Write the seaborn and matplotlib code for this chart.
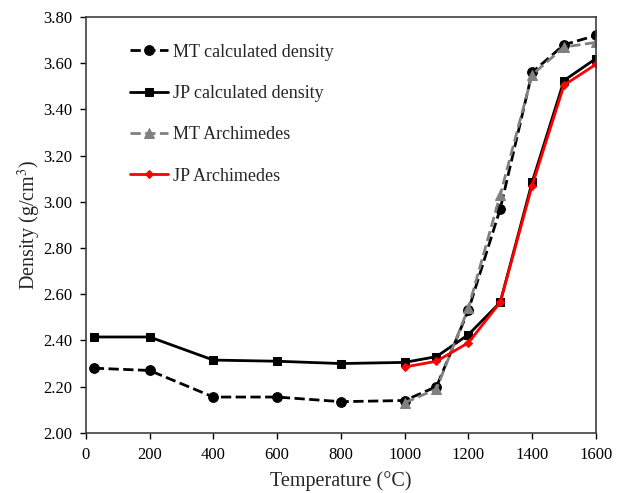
import matplotlib
matplotlib.use("Agg")
import matplotlib.pyplot as plt
import seaborn as sns

temps_mt_calc = [25, 200, 400, 600, 800, 1000, 1100, 1200, 1300, 1400, 1500, 1600]
mt_calc = [2.28, 2.27, 2.155, 2.155, 2.135, 2.14, 2.20, 2.53, 2.97, 3.56, 3.68, 3.72]
temps_jp_calc = [25, 200, 400, 600, 800, 1000, 1100, 1200, 1300, 1400, 1500, 1600]
jp_calc = [2.415, 2.415, 2.315, 2.31, 2.30, 2.305, 2.33, 2.425, 2.565, 3.085, 3.525, 3.62]
temps_arch = [1000, 1100, 1200, 1300, 1400, 1500, 1600]
mt_arch = [2.13, 2.19, 2.54, 3.03, 3.55, 3.67, 3.69]
jp_arch = [2.285, 2.31, 2.39, 2.565, 3.07, 3.505, 3.595]

sns.set_style("ticks")
plt.rcParams['font.family'] = ['Liberation Serif', 'DejaVu Serif']
plt.rcParams['mathtext.fontset'] = 'stix'

fig = plt.figure(figsize=(6.22, 4.93), dpi=100)
ax = fig.add_axes([0.138, 0.122, 0.82, 0.8435])

sns.lineplot(x=temps_mt_calc, y=mt_calc, ax=ax, color='black', linestyle='--', marker='o',
             markersize=7, linewidth=2, label='MT calculated density', markeredgecolor='black')
sns.lineplot(x=temps_jp_calc, y=jp_calc, ax=ax, color='black', linestyle='-', marker='s',
             markersize=6, linewidth=2, label='JP calculated density', markeredgecolor='black')
sns.lineplot(x=temps_arch, y=mt_arch, ax=ax, color='#808080', linestyle='--', marker='^',
             markersize=7, linewidth=2, label='MT Archimedes', markeredgecolor='#808080')
sns.lineplot(x=temps_arch, y=jp_arch, ax=ax, color='#ff0000', linestyle='-', marker='D',
             markersize=4.5, linewidth=2, label='JP Archimedes', markeredgecolor='#ff0000')

ax.set_xlim(0, 1600)
ax.set_ylim(2.0, 3.8)
ax.set_xticks(range(0, 1601, 200))
ax.set_yticks([2.0 + 0.2 * i for i in range(10)])
ax.set_yticklabels([f"{2.0 + 0.2 * i:.2f}" for i in range(10)])
ax.tick_params(labelsize=12, direction='out', length=4, width=1, pad=6, colors='black')
for s in ax.spines.values():
    s.set_color('#404040')
    s.set_linewidth(1.2)
ax.set_xlabel('Temperature (°C)', fontsize=14.5, labelpad=6)
ax.set_ylabel('Density (g/cm$^3$)', fontsize=14.5, labelpad=0)

leg = ax.legend(loc='upper left', bbox_to_anchor=(0.055, 0.975), frameon=False, fontsize=13,
                labelspacing=1.35, handlelength=2.1, handletextpad=0.25)

fig.savefig('out.png', dpi=100)
